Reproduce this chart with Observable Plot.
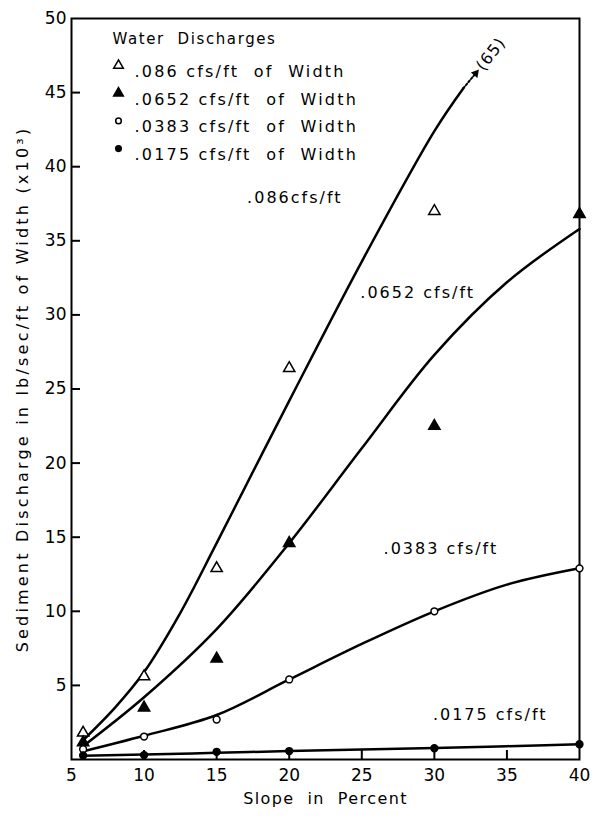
<!DOCTYPE html>
<html>
<head>
<meta charset="utf-8">
<script src="https://cdn.jsdelivr.net/npm/d3@7"></script>
<script src="https://cdn.jsdelivr.net/npm/@observablehq/plot@0.6"></script>
<style>
  body { margin: 0; background: #fff; }
  #chart svg { font-family: "DejaVu Sans", sans-serif; }
</style>
</head>
<body>
<div id="chart"></div>
<script>
// Measured sediment discharge (lb/sec/ft of width, x10^3) at each slope (%)
const slopes = [5.8, 10, 15, 20, 30, 40];
const q086  = [1.8, 5.6, 12.9, 26.4, 37.0, 65];   // 40% value lies off the scale
const q0652 = [1.15, 3.5, 6.8, 14.6, 22.5, 36.8];
const q0383 = [0.7, 1.55, 2.7, 5.4, 10.0, 12.9];
const q0175 = [0.27, 0.3, 0.52, 0.57, 0.76, 1.03];

// Smoothed fitted curves through the measurements
const fitSlopes086 = [5.8, 8, 10, 12.5, 15, 20, 25, 30, 32];
const fit086  = [1.3, 3.5, 5.9, 9.9, 14.6, 24.2, 33.6, 42.4, 45.3];
const fitSlopes = [5.8, 10, 15, 20, 25, 30, 35, 40];
const fit0652 = [0.9, 4.2, 8.8, 14.6, 21.0, 27.3, 32.2, 35.8];
const fit0383 = [0.55, 1.6, 3.0, 5.4, 7.8, 10.0, 11.8, 12.9];
const fit0175 = [0.25, 0.33, 0.45, 0.57, 0.67, 0.77, 0.9, 1.03];

// Axis ticks
const xTicks = [5, 10, 15, 20, 25, 30, 35, 40];
const xTickMarks = [10, 15, 20, 25, 30, 35];
const yTicks = [5, 10, 15, 20, 25, 30, 35, 40, 45, 50];
const yTickMarks = [5, 10, 15, 20, 25, 30, 35, 40, 45];

// Water discharge series
const seriesNames = [".086", ".0652", ".0383", ".0175"];
const seriesValues = [q086, q0652, q0383, q0175];
const seriesFitX = [fitSlopes086, fitSlopes, fitSlopes, fitSlopes];
const seriesFitY = [fit086, fit0652, fit0383, fit0175];
const seriesSymbols = ["triangle", "triangle", "circle", "circle"];
const seriesFill = ["white", "black", "white", "black"];
const curveLabelText = [".086cfs/ft", ".0652 cfs/ft", ".0383 cfs/ft", ".0175 cfs/ft"];

// Titles
const yTitle = "Sediment Discharge in lb/sec/ft of Width (x10³)";
const xTitle = "Slope  in  Percent";
const legendTitle = "Water  Discharges";
const legendText = seriesNames.map(n => n + " cfs/ft  of  Width");

const W = 594, H = 820;
const mL = 71, mR = 15, mT = 18, mB = 61;
const plotW = W - mL - mR, plotH = H - mT - mB;
const yMax = 50;

const points = seriesNames.flatMap((name, i) =>
  slopes.map((s, j) => ({series: name, slope: s, value: seriesValues[i][j]}))
        .filter(d => d.value <= yMax));
const fits = seriesNames.flatMap((name, i) =>
  seriesFitX[i].map((s, j) => ({series: name, slope: s, value: seriesFitY[i][j]})));

// Where each curve name is written
const curveLabels = [
  {slope: 17.1, value: 37.9},
  {slope: 24.9, value: 31.5},
  {slope: 26.5, value: 14.2},
  {slope: 29.9, value: 3.0}
].map((d, i) => ({...d, text: curveLabelText[i]}));

// Pointer showing the .086 curve runs on toward its off-scale value
const last086 = fits.filter(d => d.series === ".086").at(-1);
const tip = {slope: 32.85, value: 46.3};
const offScale = {slope: 33.9, value: 47.6, n: q086[q086.length - 1]};
const offScaleText = `(${offScale.n})`;

const marks = [
  Plot.frame({stroke: "black", strokeWidth: 2}),
  Plot.tickY(yTickMarks, {y: d => d, insetRight: plotW - 9, strokeWidth: 2}),
  Plot.tickX(xTickMarks, {x: d => d, insetTop: plotH - 9, strokeWidth: 2}),
  Plot.axisY(yTicks, {tickSize: 0, tickPadding: 5, fontSize: 17, label: null}),
  Plot.axisX(xTicks, {tickSize: 0, tickPadding: 9, fontSize: 17, label: null}),
  Plot.text([yTitle], {
    frameAnchor: "left", dx: -49, rotate: -90, textAnchor: "middle",
    fontSize: 16, fill: "black"
  }),
  Plot.text([xTitle], {
    frameAnchor: "bottom", dy: 44, textAnchor: "middle", fontSize: 16, fill: "black"
  }),
  Plot.line(fits, {x: "slope", y: "value", z: "series", curve: "catmull-rom",
    stroke: "black", strokeWidth: 2.5}),
  Plot.line([last086, tip], {x: "slope", y: "value", stroke: "black",
    strokeWidth: 2, strokeDasharray: "2,2"}),
  Plot.dot([tip], {x: "slope", y: "value", symbol: "triangle", r: 3.2,
    fill: "black", rotate: 40}),
  Plot.text([offScale], {x: "slope", y: "value", text: () => offScaleText,
    rotate: -52, fontSize: 16, fill: "black"}),
  Plot.text(curveLabels, {x: "slope", y: "value", text: "text",
    textAnchor: "start", fontSize: 16, fill: "black"}),
  Plot.text([legendTitle], {frameAnchor: "top-left", dx: 41, dy: 15,
    textAnchor: "start", fontSize: 15, fill: "black"})
];

seriesNames.forEach((name, i) => {
  const isTri = seriesSymbols[i] === "triangle";
  marks.push(
    Plot.dot(points.filter(d => d.series === name), {
      x: "slope", y: "value", symbol: seriesSymbols[i], r: isTri ? 4.2 : 3.4,
      fill: seriesFill[i], stroke: "black", strokeWidth: 1.5
    }),
    Plot.dot([name], {frameAnchor: "top-left", dx: 47, dy: 47 + 27.7 * i,
      symbol: seriesSymbols[i], r: isTri ? 3.6 : 2.8,
      fill: seriesFill[i], stroke: "black", strokeWidth: 1.5}),
    Plot.text([legendText[i]], {frameAnchor: "top-left",
      dx: 63, dy: 47 + 27.7 * i, textAnchor: "start", fontSize: 16, fill: "black"})
  );
});

const chart = Plot.plot({
  width: W, height: H,
  marginLeft: mL, marginRight: mR, marginTop: mT, marginBottom: mB,
  style: {fontFamily: "DejaVu Sans, sans-serif", fontSize: "17px", color: "black", background: "white"},
  x: {domain: [5, 40]},
  y: {domain: [0, yMax]},
  marks
});

// Wide hand-lettered spacing for the titles and annotations
const spacing = new Map([
  [yTitle, 3.2], [xTitle, 1.4], [legendTitle, 1.6], [offScaleText, 1],
  ...curveLabelText.map(t => [t, 2]),
  ...legendText.map(t => [t, 2.2])
]);
d3.select(chart).selectAll("text").each(function () {
  const s = spacing.get(this.textContent);
  if (s) this.style.letterSpacing = s + "px";
});

document.getElementById("chart").appendChild(chart);
</script>
</body>
</html>
